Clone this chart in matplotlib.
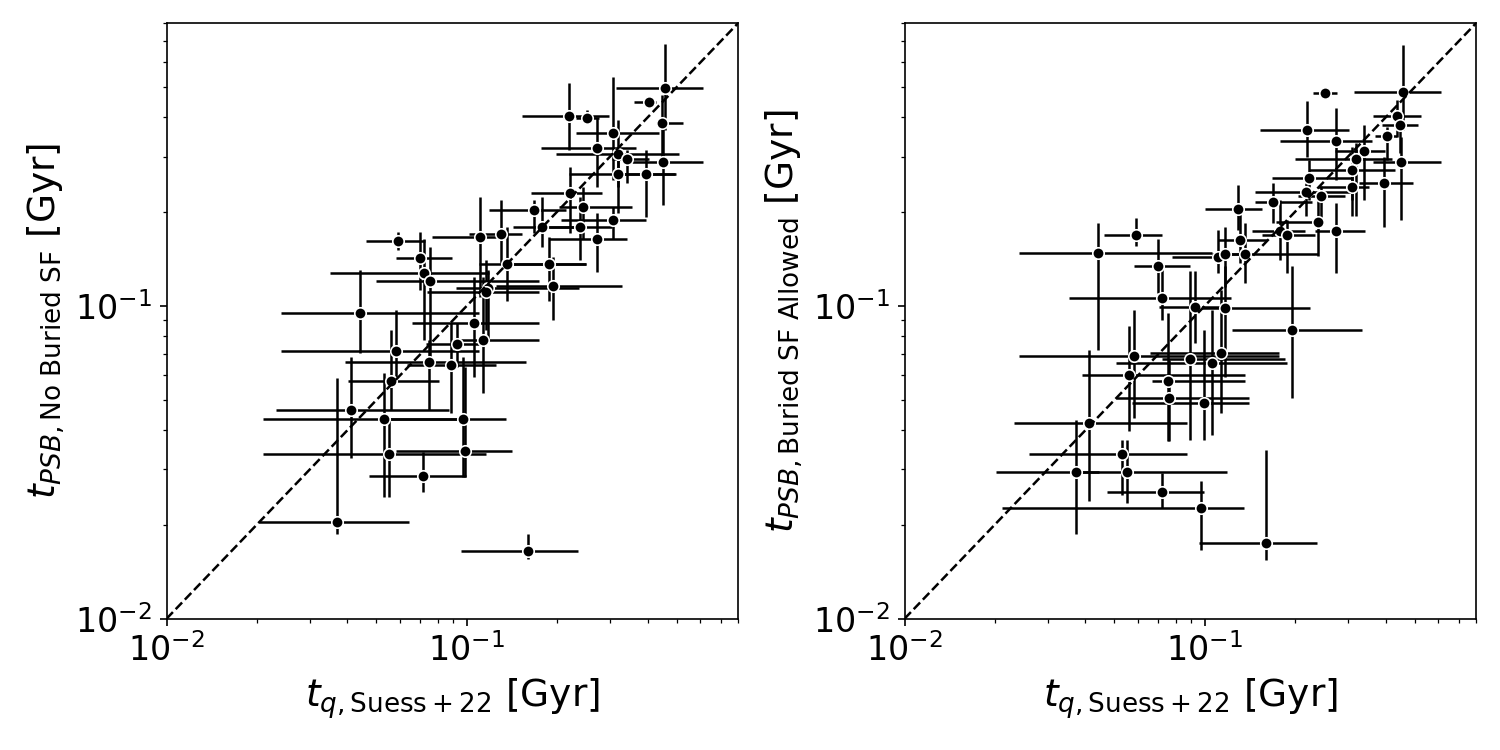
import numpy as np
import matplotlib
matplotlib.use("Agg")
import matplotlib.pyplot as plt

# ---------------- Left panel: No Buried SF ----------------
tq_left = [0.456, 0.404, 0.446, 0.219, 0.251, 0.307, 0.271, 0.319, 0.341, 0.450,
           0.319, 0.395, 0.221, 0.244, 0.168, 0.307, 0.178, 0.238, 0.271, 0.130,
           0.111, 0.0592, 0.0701, 0.0722, 0.0756, 0.136, 0.188, 0.194, 0.118, 0.116,
           0.0440, 0.106, 0.113, 0.0930, 0.0579, 0.0751, 0.0888, 0.0561, 0.0410, 0.0532,
           0.0973, 0.0549, 0.0989, 0.0717, 0.0371, 0.160]
tq_left_lo = [0.313, 0.360, 0.425, 0.153, 0.231, 0.231, 0.177, 0.198, 0.304, 0.355,
              0.219, 0.321, 0.164, 0.203, 0.119, 0.206, 0.142, 0.188, 0.188, 0.102,
              0.0768, 0.046, 0.0583, 0.0349, 0.050, 0.110, 0.142, 0.125, 0.0923, 0.0739,
              0.0241, 0.0659, 0.0923, 0.0734, 0.0241, 0.0392, 0.0630, 0.0401, 0.0232, 0.0209,
              0.0540, 0.0209, 0.0583, 0.0474, 0.0204, 0.0959]
tq_left_hi = [0.611, 0.426, 0.524, 0.297, 0.276, 0.436, 0.366, 0.508, 0.404, 0.611,
              0.497, 0.493, 0.282, 0.355, 0.214, 0.395, 0.249, 0.304, 0.341, 0.153,
              0.135, 0.0728, 0.0895, 0.119, 0.174, 0.249, 0.249, 0.329, 0.236, 0.174,
              0.110, 0.174, 0.174, 0.110, 0.110, 0.158, 0.125, 0.0810, 0.0875, 0.0930,
              0.135, 0.116, 0.141, 0.0996, 0.0644, 0.235]
tpsb_left = [0.497, 0.449, 0.384, 0.405, 0.399, 0.357, 0.320, 0.306, 0.295, 0.289,
             0.264, 0.264, 0.230, 0.207, 0.203, 0.188, 0.178, 0.178, 0.164, 0.170,
             0.166, 0.161, 0.142, 0.127, 0.120, 0.136, 0.136, 0.116, 0.114, 0.111,
             0.0950, 0.0883, 0.0779, 0.0756, 0.0718, 0.0662, 0.0648, 0.0576, 0.0465, 0.0436,
             0.0436, 0.0337, 0.0344, 0.0286, 0.0204, 0.0165]
tpsb_left_lo = [0.365, 0.432, 0.293, 0.315, 0.384, 0.253, 0.240, 0.240, 0.247, 0.210,
                0.198, 0.192, 0.171, 0.163, 0.171, 0.163, 0.154, 0.140, 0.128, 0.137,
                0.107, 0.151, 0.112, 0.0779, 0.0687, 0.104, 0.104, 0.0902, 0.0779, 0.0838,
                0.0707, 0.0593, 0.0527, 0.0639, 0.0593, 0.0465, 0.0455, 0.0465, 0.0327, 0.0245,
                0.0284, 0.0245, 0.0284, 0.0255, 0.0186, 0.0155]
tpsb_left_hi = [0.687, 0.465, 0.472, 0.515, 0.423, 0.539, 0.399, 0.393, 0.315, 0.384,
                0.293, 0.315, 0.278, 0.240, 0.218, 0.207, 0.223, 0.223, 0.198, 0.218,
                0.223, 0.172, 0.172, 0.163, 0.154, 0.179, 0.166, 0.143, 0.130, 0.140,
                0.130, 0.124, 0.124, 0.0883, 0.0971, 0.0779, 0.0883, 0.0838, 0.0687, 0.0611,
                0.0687, 0.0432, 0.0639, 0.0342, 0.0589, 0.0186]

# ---------------- Right panel: Buried SF Allowed ----------------
tq_right = [0.456, 0.251, 0.435, 0.446, 0.219, 0.273, 0.404, 0.340, 0.319, 0.450,
            0.309, 0.222, 0.395, 0.309, 0.218, 0.244, 0.169, 0.129, 0.238, 0.273,
            0.178, 0.188, 0.131, 0.0591, 0.111, 0.117, 0.136, 0.0700, 0.0718, 0.0926,
            0.117, 0.195, 0.0441, 0.0581, 0.0892, 0.113, 0.106, 0.0559, 0.0754, 0.0759,
            0.0992, 0.0410, 0.0531, 0.0372, 0.0550, 0.0722, 0.0975, 0.160]
tq_right_lo = [0.313, 0.230, 0.362, 0.388, 0.153, 0.178, 0.369, 0.272, 0.200, 0.362,
               0.222, 0.167, 0.325, 0.239, 0.147, 0.205, 0.147, 0.1005, 0.172, 0.233,
               0.144, 0.155, 0.111, 0.0462, 0.0779, 0.106, 0.117, 0.0581, 0.0353, 0.0703,
               0.0955, 0.123, 0.0241, 0.0241, 0.0722, 0.0657, 0.0505, 0.0391, 0.0668, 0.0505,
               0.0574, 0.0232, 0.0260, 0.0202, 0.0381, 0.0474, 0.0212, 0.0955]
tq_right_hi = [0.614, 0.275, 0.525, 0.514, 0.301, 0.360, 0.435, 0.398, 0.419, 0.614,
               0.430, 0.309, 0.495, 0.351, 0.309, 0.293, 0.227, 0.155, 0.245, 0.342,
               0.216, 0.233, 0.161, 0.0722, 0.120, 0.143, 0.239, 0.0896, 0.122, 0.114,
               0.224, 0.333, 0.106, 0.176, 0.185, 0.176, 0.188, 0.136, 0.136, 0.140,
               0.140, 0.0873, 0.0873, 0.0444, 0.119, 0.0992, 0.135, 0.236]
tpsb_right = [0.482, 0.478, 0.403, 0.379, 0.365, 0.337, 0.350, 0.313, 0.294, 0.289,
              0.271, 0.256, 0.247, 0.239, 0.231, 0.225, 0.214, 0.204, 0.185, 0.174,
              0.174, 0.168, 0.162, 0.168, 0.143, 0.146, 0.146, 0.134, 0.106, 0.0990,
              0.0983, 0.0838, 0.147, 0.0689, 0.0677, 0.0706, 0.0659, 0.0599, 0.0577, 0.0507,
              0.0489, 0.0422, 0.0337, 0.0295, 0.0295, 0.0255, 0.0226, 0.0175]
tpsb_right_lo = [0.365, 0.470, 0.347, 0.307, 0.300, 0.253, 0.293, 0.218, 0.193, 0.188,
                 0.218, 0.218, 0.179, 0.193, 0.193, 0.184, 0.184, 0.175, 0.144, 0.127,
                 0.140, 0.127, 0.137, 0.155, 0.127, 0.115, 0.118, 0.110, 0.0902, 0.0760,
                 0.0594, 0.0507, 0.0723, 0.0438, 0.0373, 0.0454, 0.0387, 0.0397, 0.0369, 0.0369,
                 0.0373, 0.0237, 0.0249, 0.0186, 0.0234, 0.0226, 0.0166, 0.0154]
tpsb_right_hi = [0.682, 0.490, 0.455, 0.413, 0.450, 0.428, 0.374, 0.379, 0.331, 0.347,
                 0.323, 0.293, 0.300, 0.272, 0.259, 0.241, 0.247, 0.244, 0.229, 0.213,
                 0.218, 0.188, 0.198, 0.191, 0.175, 0.179, 0.184, 0.163, 0.137, 0.129,
                 0.134, 0.134, 0.184, 0.0971, 0.129, 0.112, 0.0971, 0.0859, 0.0948, 0.0672,
                 0.0838, 0.0723, 0.0373, 0.0432, 0.0373, 0.0292, 0.0275, 0.0347]

xlabel = r'$t_{q,\mathrm{Suess+22}}$ [Gyr]'
ylabels = [r'$t_{PSB,\mathrm{No\ Buried\ SF}}$ [Gyr]',
           r'$t_{PSB,\mathrm{Buried\ SF\ Allowed}}$ [Gyr]']
lims = (0.01, 0.8)

fig = plt.figure(figsize=(10, 5), dpi=150)
ax1 = fig.add_axes([0.111, 0.175, 0.381, 0.794])
ax2 = fig.add_axes([0.603, 0.175, 0.381, 0.794])

panels = [
    (ax1, tq_left, tq_left_lo, tq_left_hi, tpsb_left, tpsb_left_lo, tpsb_left_hi, ylabels[0]),
    (ax2, tq_right, tq_right_lo, tq_right_hi, tpsb_right, tpsb_right_lo, tpsb_right_hi, ylabels[1]),
]

for ax, x, xlo, xhi, y, ylo, yhi, ylab in panels:
    x = np.array(x); xlo = np.array(xlo); xhi = np.array(xhi)
    y = np.array(y); ylo = np.array(ylo); yhi = np.array(yhi)
    xerr = np.vstack([np.clip(x - xlo, 0, None), np.clip(xhi - x, 0, None)])
    yerr = np.vstack([np.clip(y - ylo, 0, None), np.clip(yhi - y, 0, None)])
    for i in range(len(x)):
        ax.errorbar(x[i], y[i], xerr=xerr[:, i:i+1], yerr=yerr[:, i:i+1],
                    fmt='o', color='black', ecolor='black', elinewidth=1.2,
                    markersize=5.5, markeredgecolor='white', markeredgewidth=0.8,
                    capsize=0)
    ax.plot(lims, lims, 'k--', lw=1.2, zorder=5)
    ax.set_xscale('log')
    ax.set_yscale('log')
    ax.set_xlim(lims)
    ax.set_ylim(lims)
    ax.set_xlabel(xlabel, fontsize=18)
    ax.set_ylabel(ylab, fontsize=18)
    ax.tick_params(axis='both', which='major', labelsize=16)

fig.savefig('out.png', dpi=150)
